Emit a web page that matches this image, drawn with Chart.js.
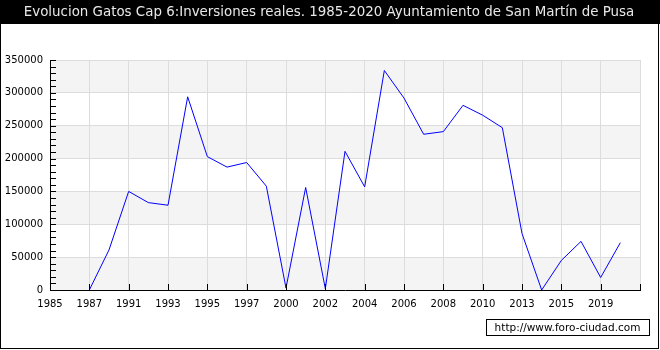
<!DOCTYPE html>
<html>
<head>
<meta charset="utf-8">
<script src="https://cdn.jsdelivr.net/npm/chart.js@4.4.1/dist/chart.umd.min.js"></script>
<style>
  body { margin: 0; background: #fff; }
  canvas { display: block; }
</style>
</head>
<body>
<canvas id="myChart" width="660" height="350"></canvas>
<script>
// ---- data ----
const years = ['1985', '1986', '1987', '1989', '1991', '1992', '1993', '1994', '1995', '1996',
  '1997', '1999', '2000', '2001', '2002', '2003', '2004', '2005', '2006', '2007',
  '2008', '2009', '2010', '2012', '2013', '2014', '2015', '2017', '2019', '2020', ''];
const inversiones = [null, null, 0, 61000, 150000, 133000, 129000, 294000, 203000, 187000,
  194000, 158000, 3000, 156000, 2000, 211000, 157000, 334000, 292000, 237000,
  241000, 281000, 266000, 247000, 86000, 0, 45000, 74000, 19000, 72000];
const yTicks = [0, 50000, 100000, 150000, 200000, 250000, 300000, 350000];

const titleText = 'Evolucion Gatos Cap 6:Inversiones reales. 1985-2020 Ayuntamiento de San Martín de Pusa';
const FONT = '"DejaVu Sans", Verdana, sans-serif';

Chart.defaults.font.family = FONT;
Chart.defaults.font.size = 10;
Chart.defaults.color = '#000';

// background bands, title bar, frame, small ticks, watermark
const decor = {
  id: 'decor',
  beforeDraw(chart) {
    const { ctx, chartArea: a, scales: { y } } = chart;
    ctx.save();
    ctx.fillStyle = '#fff';
    ctx.fillRect(0, 0, chart.width, chart.height);
    ctx.fillStyle = '#f4f4f4';
    for (let i = 0; i < yTicks.length - 1; i += 2) {
      const top = y.getPixelForValue(yTicks[i + 1]);
      const bot = y.getPixelForValue(yTicks[i]);
      ctx.fillRect(a.left, top, a.right - a.left, bot - top);
    }
    ctx.restore();
  },
  afterDraw(chart) {
    const { ctx, chartArea: a, scales: { x, y } } = chart;
    ctx.save();
    // title bar
    ctx.fillStyle = '#000';
    ctx.fillRect(0, 0, chart.width, 24);
    ctx.fillStyle = '#e8e8e8';
    ctx.font = '13.4px ' + FONT;
    ctx.textAlign = 'center';
    ctx.textBaseline = 'middle';
    ctx.fillText(titleText, 329, 13);

    // ticks on the axes, drawn inwards
    ctx.strokeStyle = '#000';
    ctx.lineWidth = 1;
    ctx.beginPath();
    for (let v = 0; v <= 350000; v += 10000) {
      const py = Math.round(y.getPixelForValue(v)) + 0.5;
      ctx.moveTo(a.left, py);
      ctx.lineTo(a.left + 6, py);
    }
    for (let i = 0; i < years.length; i += 2) {
      const px = Math.round(x.getPixelForValue(i)) + 0.5;
      ctx.moveTo(px, a.bottom);
      ctx.lineTo(px, a.bottom - 6);
    }
    ctx.stroke();

    // outer frame
    ctx.strokeRect(0.5, 0.5, 658, 348);

    // watermark
    ctx.fillStyle = '#fff';
    ctx.fillRect(486, 319, 163, 16);
    ctx.strokeRect(486.5, 319.5, 163, 16);
    ctx.fillStyle = '#000';
    ctx.font = '10.5px ' + FONT;
    ctx.textAlign = 'center';
    ctx.fillText('http://www.foro-ciudad.com', 567.5, 328);
    ctx.restore();
  }
};

const ctx = document.getElementById('myChart');

new Chart(ctx, {
  type: 'line',
  data: {
    labels: years,
    datasets: [{
      label: 'Inversiones reales',
      data: inversiones,
      borderColor: '#0000ff',
      borderWidth: 1,
      pointRadius: 0,
      tension: 0,
      fill: false
    }]
  },
  options: {
    responsive: false,
    animation: false,
    layout: { padding: { left: 0, top: 60, right: 20, bottom: 0 } },
    plugins: {
      legend: { display: false },
      tooltip: { enabled: false }
    },
    scales: {
      x: {
        type: 'category',
        offset: false,
        afterFit: s => { s.height = 60; },
        grid: {
          drawTicks: false,
          color: c => (c.index % 2 === 0 ? '#dcdcdc' : 'transparent')
        },
        border: { display: true, color: '#000', width: 1 },
        ticks: {
          autoSkip: false,
          maxRotation: 0,
          padding: 8,
          callback: (v, i) => (i % 2 === 0 ? years[i] : '')
        }
      },
      y: {
        min: 0,
        max: 350000,
        afterFit: s => { s.width = 50; },
        afterBuildTicks: s => { s.ticks = yTicks.map(v => ({ value: v })); },
        grid: { drawTicks: false, color: '#dcdcdc' },
        border: { display: true, color: '#000', width: 1 },
        ticks: { padding: 7, callback: v => String(v) }
      }
    }
  },
  plugins: [decor]
});
</script>
</body>
</html>
